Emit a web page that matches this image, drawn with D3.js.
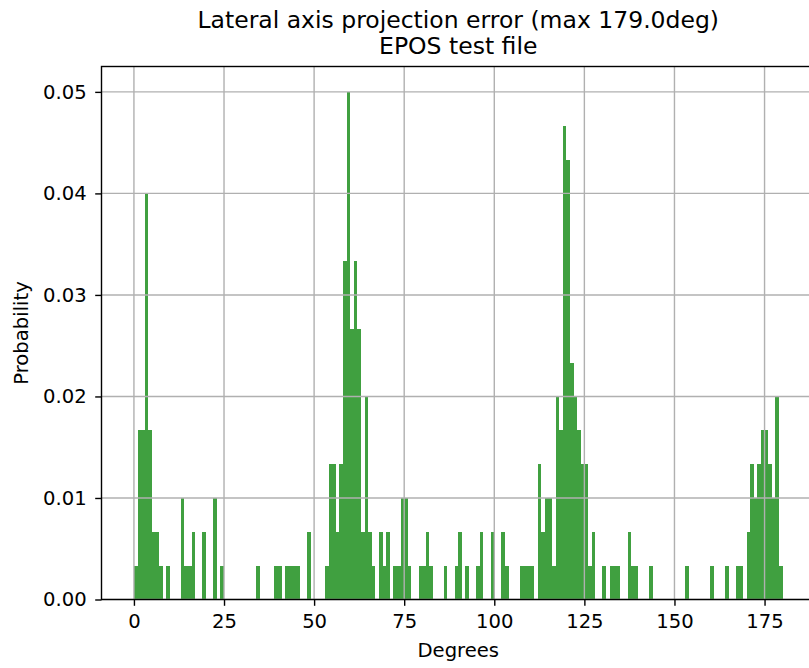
<!DOCTYPE html>
<html>
<head>
<meta charset="utf-8">
<script src="https://cdn.jsdelivr.net/npm/d3@7"></script>
<style>
  body { margin: 0; background: #fff; }
  svg { display: block; font-family: "DejaVu Sans", sans-serif; }
</style>
</head>
<body>
<svg id="chart" width="809" height="668"></svg>
<script>
// histogram bins (1 degree wide)
var binDegrees = [0, 1, 2, 3, 4, 5, 6, 7, 9, 13, 14, 15, 16, 19, 22, 24,
    34, 39, 40, 42, 43, 44, 45, 48,
    53, 54, 55, 56, 57, 58, 59, 60, 61, 62, 63, 64, 65, 66, 68, 69, 70, 72, 73, 74, 75, 76, 79,
    80, 81, 82, 86, 89, 90, 92, 95, 96, 99, 102, 103,
    107, 108, 109, 110, 112, 113, 114, 115, 116, 117, 118, 119, 120, 121, 122, 123, 124, 125, 126, 127,
    130, 132, 133, 134, 137, 138, 139, 143, 153, 160,
    164, 167, 168, 170, 171, 172, 173, 174, 175, 176, 177, 178, 179];
var binCounts = [1, 5, 5, 12, 5, 2, 2, 1, 1, 3, 1, 1, 2, 2, 3, 1,
    1, 1, 1, 1, 1, 1, 1, 2,
    1, 4, 4, 2, 4, 10, 15, 8, 10, 8, 2, 6, 2, 1, 2, 1, 2, 1, 1, 3, 3, 1, 1,
    1, 2, 1, 1, 1, 2, 1, 1, 2, 2, 2, 1,
    1, 1, 1, 1, 4, 2, 3, 3, 1, 6, 5, 14, 13, 7, 6, 5, 4, 4, 1, 2,
    1, 1, 1, 1, 2, 1, 1, 1, 1, 1,
    1, 1, 1, 2, 4, 3, 4, 5, 5, 4, 3, 6, 1];
var sampleCount = 300;
var xTicks = [0, 25, 50, 75, 100, 125, 150, 175];
var yTicks = [0, 0.01, 0.02, 0.03, 0.04, 0.05];

var svg = d3.select("#chart"),
    margin = {top: 66.5, left: 101.5, bottom: 599.5},
    right = 815;

var x = d3.scaleLinear().domain([-9, 189]).range([margin.left, right]),
    y = d3.scaleLinear().domain([0, 0.0525]).range([margin.bottom, margin.top]);

var data = binDegrees.map(function (d, i) {
    return {deg: d, p: binCounts[i] / sampleCount};
});

// bars
svg.append("g")
    .attr("shape-rendering", "crispEdges")
    .selectAll("rect")
    .data(data)
    .enter()
    .append("rect")
    .attr("x", function (d) { return x(d.deg); })
    .attr("width", function (d) { return x(d.deg + 1) - x(d.deg); })
    .attr("y", function (d) { return y(d.p); })
    .attr("height", function (d) { return y(0) - y(d.p); })
    .attr("fill", "#40a040");

// grid above bars, as matplotlib does
var grid = svg.append("g").attr("stroke", "#b0b0b0").attr("stroke-width", 1.4);
grid.selectAll(".gx").data(xTicks).enter().append("line")
    .attr("x1", function (d) { return x(d); }).attr("x2", function (d) { return x(d); })
    .attr("y1", margin.top).attr("y2", margin.bottom);
grid.selectAll(".gy").data(yTicks).enter().append("line")
    .attr("x1", margin.left).attr("x2", right)
    .attr("y1", function (d) { return y(d); }).attr("y2", function (d) { return y(d); });

// axes
var xAxis = svg.append("g")
    .attr("transform", "translate(0," + margin.bottom + ")")
    .call(d3.axisBottom(x).tickValues(xTicks).tickSize(6.3).tickPadding(6).tickSizeOuter(0));
var yAxis = svg.append("g")
    .attr("transform", "translate(" + margin.left + ",0)")
    .call(d3.axisLeft(y).tickValues(yTicks).tickFormat(d3.format(".2f")).tickSize(6.3).tickPadding(8.5).tickSizeOuter(0));

[xAxis, yAxis].forEach(function (a) {
    a.selectAll("text").attr("font-size", 19.6).attr("fill", "#000")
        .attr("font-family", "DejaVu Sans");
    a.selectAll("line").attr("stroke", "#000").attr("stroke-width", 1.4);
    a.select(".domain").remove();
});
xAxis.selectAll("text").attr("dy", 16.5);

// frame
svg.append("rect")
    .attr("x", margin.left).attr("y", margin.top)
    .attr("width", right - margin.left).attr("height", margin.bottom - margin.top)
    .attr("fill", "none").attr("stroke", "#000").attr("stroke-width", 1.4);

// labels
svg.append("text")
    .attr("x", (margin.left + right) / 2).attr("y", 657)
    .attr("text-anchor", "middle").attr("font-size", 19.6)
    .text("Degrees");
svg.append("text")
    .attr("transform", "translate(28," + ((margin.top + margin.bottom) / 2) + ") rotate(-90)")
    .attr("text-anchor", "middle").attr("font-size", 19.6)
    .text("Probability");

var title = svg.append("text")
    .attr("text-anchor", "middle").attr("font-size", 23.5);
title.append("tspan").attr("x", (margin.left + right) / 2).attr("y", 27.5)
    .text("Lateral axis projection error (max 179.0deg)");
title.append("tspan").attr("x", (margin.left + right) / 2).attr("y", 53.5)
    .text("EPOS test file");
</script>
</body>
</html>
